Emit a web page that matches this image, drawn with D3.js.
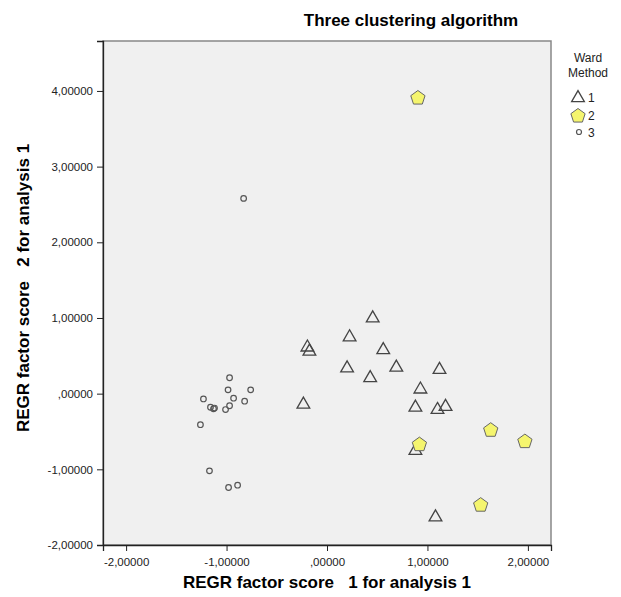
<!DOCTYPE html>
<html>
<head>
<meta charset="utf-8">
<script src="https://d3js.org/d3.v7.min.js"></script>
<style>
  body { margin: 0; background: #fff; }
  text { font-family: "Liberation Sans", Arial, sans-serif; }
</style>
</head>
<body>
<svg id="chart" width="621" height="597"></svg>
<script>
// cluster 1 (triangles)
var c1x = [0.455, 0.225, -0.195, -0.175, 0.56, 0.20, 0.43, 0.69, 1.12, 0.93, -0.235, 0.88, 1.10, 1.18, 0.88, 1.08]
var c1y = [1.01, 0.76, 0.625, 0.57, 0.59, 0.35, 0.22, 0.36, 0.33, 0.07, -0.13, -0.17, -0.20, -0.16, -0.74, -1.62]
// cluster 2 (pentagons)
var c2x = [0.905, 0.92, 1.63, 1.97, 1.53]
var c2y = [3.92, -0.66, -0.47, -0.62, -1.46]
// cluster 3 (small circles)
var c3x = [-0.97, -0.985, -0.76, -1.23, -0.93, -0.82, -1.16, -1.12, -1.13, -0.97, -1.01, -1.26, -1.17, -0.98, -0.89, -0.83]
var c3y = [0.21, 0.05, 0.05, -0.07, -0.06, -0.10, -0.18, -0.19, -0.20, -0.16, -0.21, -0.41, -1.02, -1.24, -1.21, 2.58]

var xTicks = [-2, -1, 0, 1, 2]
var yTicks = [-2, -1, 0, 1, 2, 3, 4]
var legendLabels = ["1", "2", "3"]

var margin = { top: 41, left: 103, right: 70, bottom: 52 }
var width = 621 - margin.left - margin.right
var height = 597 - margin.top - margin.bottom

var svg = d3.select("#chart")
var g = svg.append("g").attr("transform", "translate(" + margin.left + "," + margin.top + ")")

var x = d3.scaleLinear().domain([-2.23, 2.23]).range([0, width])
var y = d3.scaleLinear().domain([-2, 4.66]).range([height, 0])

// SPSS style number: comma decimal, no leading zero
function fmt(v) {
  var s = Math.abs(v).toFixed(5).replace(".", ",")
  if (v === 0) s = s.replace(/^0/, "")
  return (v < 0 ? "-" : "") + s
}

g.append("rect")
  .attr("width", width).attr("height", height)
  .attr("fill", "#f0f0f0")
  .attr("stroke", "#888").attr("stroke-width", 1.5)

var xAxis = g.append("g")
  .attr("transform", "translate(0," + height + ")")
  .call(d3.axisBottom(x).tickValues(xTicks).tickFormat(fmt).tickSizeOuter(0).tickSize(6))
var yAxis = g.append("g")
  .call(d3.axisLeft(y).tickValues(yTicks).tickFormat(fmt).tickSizeOuter(0).tickSize(6))

;[xAxis, yAxis].forEach(function(a) {
  a.selectAll("path").attr("stroke", "#222").attr("stroke-width", 1.3)
  a.selectAll("line").attr("stroke", "#222")
  a.selectAll("text").attr("font-size", 11.5).attr("fill", "#222")
    .attr("font-family", "Liberation Sans, Arial, sans-serif")
})
xAxis.selectAll("text").attr("dy", "1em")
yAxis.selectAll("text").attr("dx", "-1px")

// symbols
var tri = d3.symbol().type(d3.symbolTriangle).size(70)
function pentagon(r) {
  var pts = []
  for (var i = 0; i < 5; i++) {
    var a = -Math.PI / 2 + i * 2 * Math.PI / 5
    pts.push([r * Math.cos(a), r * Math.sin(a)])
  }
  return "M" + pts.join("L") + "Z"
}

c3x.forEach(function(d, i) {
  g.append("circle")
    .attr("cx", x(d)).attr("cy", y(c3y[i])).attr("r", 2.8)
    .attr("fill", "none").attr("stroke", "#555").attr("stroke-width", 1.2)
})
c1x.forEach(function(d, i) {
  g.append("path")
    .attr("d", tri)
    .attr("transform", "translate(" + x(d) + "," + (y(c1y[i]) + 1) + ")")
    .attr("fill", "none").attr("stroke", "#444").attr("stroke-width", 1.3)
})
c2x.forEach(function(d, i) {
  g.append("path")
    .attr("d", pentagon(7.5))
    .attr("transform", "translate(" + x(d) + "," + (y(c2y[i]) + 1) + ")")
    .attr("fill", "#f5f56e").attr("stroke", "#666").attr("stroke-width", 1)
})

// title and axis titles
svg.append("text")
  .attr("x", 411).attr("y", 26)
  .attr("text-anchor", "middle")
  .attr("font-size", 17).attr("font-weight", "bold")
  .text("Three clustering algorithm")

svg.append("text")
  .attr("x", margin.left + x(0)).attr("y", 588)
  .attr("text-anchor", "middle")
  .attr("font-size", 17).attr("font-weight", "bold")
  .attr("xml:space", "preserve")
  .text("REGR factor score   1 for analysis 1")

svg.append("text")
  .attr("transform", "translate(29," + 288 + ") rotate(-90)")
  .attr("text-anchor", "middle")
  .attr("font-size", 17).attr("font-weight", "bold")
  .attr("xml:space", "preserve")
  .text("REGR factor score   2 for analysis 1")

// legend
var lg = svg.append("g").attr("transform", "translate(588,0)")
lg.append("text").attr("y", 62).attr("text-anchor", "middle").attr("font-size", 12).attr("fill", "#222").text("Ward")
lg.append("text").attr("y", 77).attr("text-anchor", "middle").attr("font-size", 12).attr("fill", "#222").text("Method")
var ly = [97, 115, 132]
lg.append("path").attr("d", tri).attr("transform", "translate(-10," + (ly[0] + 1) + ")")
  .attr("fill", "none").attr("stroke", "#444").attr("stroke-width", 1.3)
lg.append("path").attr("d", pentagon(7.5)).attr("transform", "translate(-10," + (ly[1] + 1) + ")")
  .attr("fill", "#f5f56e").attr("stroke", "#666")
lg.append("circle").attr("cx", -9).attr("cy", ly[2]).attr("r", 2.5)
  .attr("fill", "none").attr("stroke", "#555").attr("stroke-width", 1.2)
legendLabels.forEach(function(t, i) {
  lg.append("text").attr("x", 0).attr("y", ly[i] + 5).attr("font-size", 12).attr("fill", "#222").text(t)
})
</script>
</body>
</html>
